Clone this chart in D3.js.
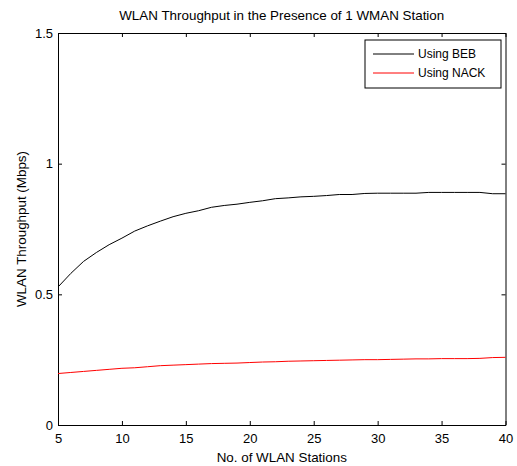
<!DOCTYPE html>
<html>
<head>
<meta charset="utf-8">
<script src="https://cdn.jsdelivr.net/npm/d3@7"></script>
<style>
  body { margin: 0; background: #fff; }
  svg text { font-family: "Liberation Sans", Arial, sans-serif; fill: #000; }
</style>
</head>
<body>
<svg id="chart" width="517" height="466"></svg>
<script>
// WLAN throughput vs number of WLAN stations
const stations = d3.range(5, 41);
const bebThroughput = [
  0.528, 0.58, 0.626, 0.66, 0.69, 0.715, 0.742, 0.762, 0.78, 0.797,
  0.81, 0.82, 0.833, 0.84, 0.845, 0.852, 0.858, 0.866, 0.869, 0.873,
  0.875, 0.878, 0.882, 0.882, 0.886, 0.887, 0.887, 0.887, 0.887, 0.89,
  0.89, 0.89, 0.89, 0.89, 0.885, 0.885
];
const nackThroughput = [
  0.197, 0.201, 0.205, 0.209, 0.213, 0.217, 0.219, 0.223, 0.227, 0.229,
  0.231, 0.233, 0.235, 0.236, 0.237, 0.239, 0.241, 0.242, 0.244, 0.245,
  0.246, 0.247, 0.248, 0.249, 0.25, 0.25, 0.251, 0.252, 0.253, 0.253,
  0.254, 0.254, 0.254, 0.255, 0.258, 0.259
];
const xTicks = [5, 10, 15, 20, 25, 30, 35, 40];
const yTicks = [0, 0.5, 1, 1.5];
const seriesNames = ["Using BEB", "Using NACK"];
const seriesColors = ["#000000", "#ff0000"];

const svg = d3.select("#chart");
const margin = { left: 58, right: 10, top: 33, bottom: 41 };
const W = 517, H = 466;

const x = d3.scaleLinear().domain([5, 40]).range([margin.left, W - margin.right - 1.5]);
const y = d3.scaleLinear().domain([0, 1.5]).range([H - margin.bottom, margin.top]);

// axes (ticks inward, mirrored on top and right)
const fmt = d => d3.format("")(d);
svg.append("g")
  .attr("transform", `translate(0,${y(0)})`)
  .call(d3.axisBottom(x).tickValues(xTicks).tickSizeInner(-4).tickSizeOuter(0).tickPadding(9).tickFormat(fmt))
  .call(g => g.selectAll("text").attr("font-size", 13));
svg.append("g")
  .attr("transform", `translate(0,${y(1.5)})`)
  .call(d3.axisTop(x).tickValues(xTicks).tickSizeInner(-4).tickSizeOuter(0).tickFormat(""));
svg.append("g")
  .attr("transform", `translate(${x(5)},0)`)
  .call(d3.axisLeft(y).tickValues(yTicks).tickSizeInner(-4).tickSizeOuter(0).tickPadding(5).tickFormat(fmt))
  .call(g => g.selectAll("text").attr("font-size", 13));
svg.append("g")
  .attr("transform", `translate(${x(40)},0)`)
  .call(d3.axisRight(y).tickValues(yTicks).tickSizeInner(-4).tickSizeOuter(0).tickFormat(""));
svg.selectAll(".domain").attr("stroke", "#000");
svg.selectAll(".tick line").attr("stroke", "#000");

// lines
const line = d3.line().x((d, i) => x(stations[i])).y(d => y(d));
[bebThroughput, nackThroughput].forEach((vals, k) => {
  svg.append("path")
    .datum(vals)
    .attr("fill", "none")
    .attr("stroke", seriesColors[k])
    .attr("stroke-width", 1)
    .attr("d", line);
});

// title and labels
svg.append("text")
  .attr("x", (x(5) + x(40)) / 2).attr("y", 20)
  .attr("text-anchor", "middle").attr("font-size", 13.4)
  .text("WLAN Throughput in the Presence of 1 WMAN Station");
svg.append("text")
  .attr("x", (x(5) + x(40)) / 2).attr("y", 462)
  .attr("text-anchor", "middle").attr("font-size", 13.4)
  .text("No. of WLAN Stations");
svg.append("text")
  .attr("transform", `translate(26,${(y(0) + y(1.5)) / 2}) rotate(-90)`)
  .attr("text-anchor", "middle").attr("font-size", 13.4)
  .text("WLAN Throughput (Mbps)");

// legend
const legend = svg.append("g").attr("transform", "translate(365,40)");
legend.append("rect")
  .attr("width", 136).attr("height", 48)
  .attr("fill", "#fff").attr("stroke", "#000");
seriesNames.forEach((name, k) => {
  const ly = 14 + k * 19;
  legend.append("line")
    .attr("x1", 8).attr("x2", 49).attr("y1", ly).attr("y2", ly)
    .attr("stroke", seriesColors[k]);
  legend.append("text")
    .attr("x", 53).attr("y", ly + 4).attr("font-size", 12)
    .text(name);
});
</script>
</body>
</html>
